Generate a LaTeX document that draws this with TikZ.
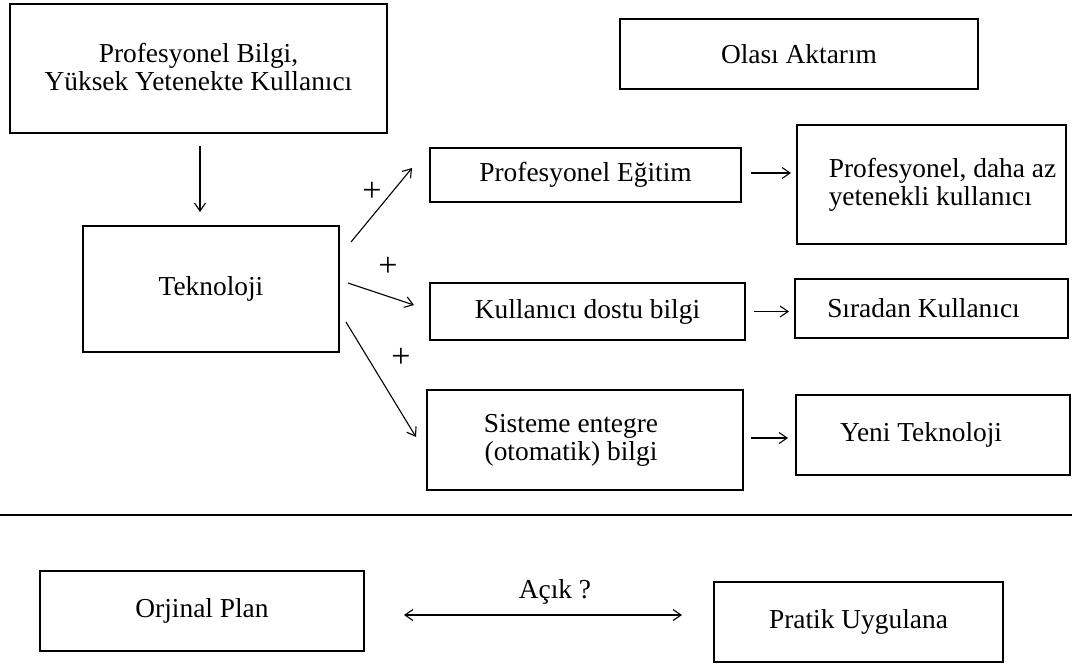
\documentclass[tikz,border=0pt]{standalone}
\usepackage{fontspec}
\setmainfont{Liberation Serif}
\usetikzlibrary{arrows.meta,calc}
\begin{document}
\begin{tikzpicture}[x=0.5pt,y=-0.5pt,
  font=\fontsize{13.7}{14}\selectfont,
  box/.style={draw, line width=1pt, inner sep=0pt, align=center},
  arr/.style={line width=0.55pt, -{Straight Barb[length=4pt,width=5.5pt]}},
  darr/.style={line width=0.55pt, {Straight Barb[length=4pt,width=5.5pt]}-{Straight Barb[length=4pt,width=5.5pt]}},
  lbl/.style={inner sep=0pt},
  plus/.style={inner sep=0pt, font=\fontsize{17}{17}\selectfont}]
\useasboundingbox (0,0) rectangle (1072,666);

% boxes
\node[box, minimum width=188.5pt, minimum height=64.5pt] (b1) at (198.5,68.5) {\raisebox{2pt}{Profesyonel Bilgi,}\\\raisebox{2pt}{Yüksek Yetenekte Kullanıcı}};
\node[box, minimum width=179pt, minimum height=35pt] (olasi) at (799,54) {Olası Aktarım};
\node[box, minimum width=128pt, minimum height=63pt] (tek) at (211,289) {Teknoloji};
\node[box, minimum width=155.5pt, minimum height=27pt] (profeg) at (585.5,175) {Profesyonel Eğitim};
\node[box, minimum width=134.5pt, minimum height=59.5pt, align=left] (pdaz) at (931.5,184.5) {\hspace*{11pt}Profesyonel, daha az\\\hspace*{11pt}yetenekli kullanıcı};
\node[box, minimum width=157.5pt, minimum height=28.5pt] (kd) at (587.5,311.5) {Kullanıcı dostu bilgi};
\node[box, minimum width=136.5pt, minimum height=29.5pt] (sira) at (931.5,308.5) {Sıradan Kullanıcı\hspace*{8pt}};
\node[box, minimum width=158pt, minimum height=50pt] (sis) at (585,440) {Sisteme entegre\hspace*{14pt}\\(otomatik) bilgi\hspace*{14pt}};
\node[box, minimum width=137pt, minimum height=40pt] (yeni) at (933,435) {Yeni Teknoloji\hspace*{12pt}};
\node[box, minimum width=162pt, minimum height=40pt] (orj) at (202,611) {Orjinal Plan};
\node[box, minimum width=144.5pt, minimum height=40pt] (prat) at (858.5,622) {Pratik Uygulana};

% separator line
\draw[line width=0.75pt] (0,515) -- (1072,515);

% connectors
\draw[arr, shorten <=6pt, shorten >=6.5pt] ([xshift=0.75pt]b1.south) -- ([xshift=0.75pt]b1.south |- tek.north);
\draw[arr] ($(tek.east)+(11,-47)$) -- ($(profeg.west)+(-17,-7)$);
\draw[arr] ($(tek.east)+(8,-6)$) -- ($(kd.west)+(-15,-6.5)$);
\draw[arr] ($(tek.east)+(6,33)$) -- ($(sis.west)+(-10,-3)$);
\draw[arr, shorten <=4.5pt, shorten >=2.5pt] ([yshift=1pt]profeg.east) -- ([yshift=1pt]profeg.east -| pdaz.west);
\draw[arr, shorten <=4pt, shorten >=2.5pt] (kd.east) -- (kd.east -| sira.west);
\draw[arr, shorten <=3.5pt, shorten >=3.5pt] ([yshift=1pt]sis.east) -- ([yshift=1pt]sis.east -| yeni.west);
\draw[darr, shorten <=19.5pt, shorten >=15.5pt] ([yshift=-2pt]orj.east) -- ([yshift=-2pt]orj.east -| prat.west);

% labels
\node[plus] (p1) at (372,192) {+};
\node[plus] (p2) at (388,267) {+};
\node[plus] (p3) at (401,358) {+};
\node[lbl] (acik) at (555,592) {Açık ?};
\end{tikzpicture}
\end{document}
